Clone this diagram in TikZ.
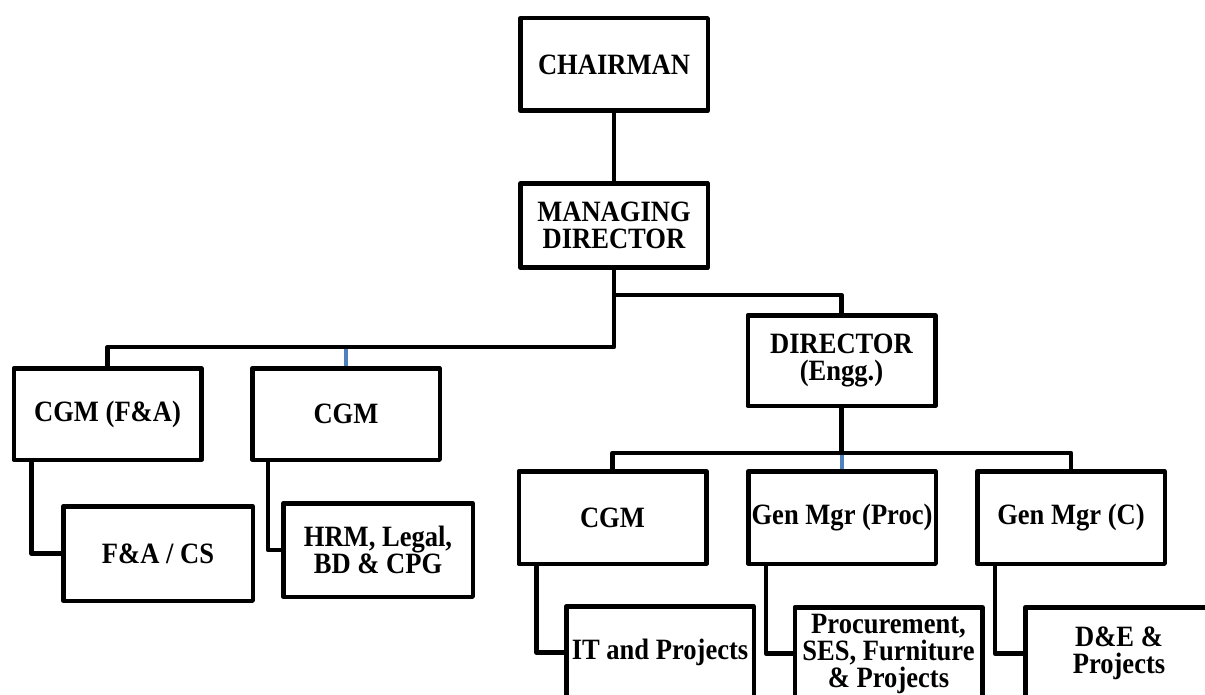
\documentclass[tikz,border=0pt]{standalone}
\usepackage{fontspec}
\setmainfont{Liberation Serif}[FakeStretch=0.9]
\definecolor{linkblue}{HTML}{4F81BD}
\begin{document}
\begin{tikzpicture}[x=1pt,y=-1pt,
  box/.style={draw, line width=4.5pt, line join=round, inner sep=0pt,
    minimum width=187.5pt, align=center,
    font=\bfseries\fontsize{29.5}{27}\selectfont},
  conn/.style={line width=4.5pt, line join=round},
  bconn/.style={line width=4.5pt, draw=linkblue}]
\useasboundingbox (0,0) rectangle (1205,695);
% nodes
\node[box, minimum height=92.5pt] (chair) at (614,64.5) {CHAIRMAN};
\node[box, minimum height=83.5pt] (md) at (614,225.5) {MANAGING\\DIRECTOR};
\node[box, minimum height=90.5pt] (director) at (841.5,360.5) {DIRECTOR\\(Engg.)};
\node[box, minimum height=91.5pt] (cgmfa) at (107.5,414) {CGM (F\&A)};
\node[box, minimum height=91.5pt] (cgm1) at (346,414) {CGM};
\node[box, minimum height=94.5pt, minimum width=189.5pt] (facs) at (158,553.5) {F\&A / CS};
\node[box, minimum height=93.5pt, minimum width=189.5pt] (hrm) at (378,550) {HRM, Legal,\\BD \& CPG};
\node[box, minimum height=92.5pt] (cgm2) at (612.5,517.5) {CGM};
\node[box, minimum height=92.5pt] (gmp) at (842,517.5) {Gen Mgr (Proc)};
\node[box, minimum height=92.5pt] (gmc) at (1071,517.5) {Gen Mgr (C)};
\node[box, minimum height=92.5pt] (it) at (660,652.5) {IT and Projects};
\node[box, minimum height=92.5pt] (proc) at (888.5,653.5) {Procurement,\\SES, Furniture\\\& Projects};
\node[box, minimum height=92.5pt] (de) at (1119,653.5) {D\&E \&\\Projects};
% bus levels
\coordinate (busL) at (0,347);
\coordinate (busR) at (0,295);
\coordinate (busD) at (0,453);
% blue stubs (under black lines)
\draw[bconn] (cgm1.north) -- (cgm1.north |- busL);
\draw[bconn] (gmp.north) -- (gmp.north |- busD);
% connectors
\draw[conn] (chair.south) -- (md.north);
\draw[conn] (md.south) |- (cgmfa.north |- busL) -- (cgmfa.north);
\draw[conn] (md.south |- busR) -| (director.north);
\draw[conn] (director.south) -- (director.south |- busD);
\draw[conn] (cgm2.north) |- (gmc.north |- busD) -- (gmc.north);
\draw[conn] ([xshift=20pt]cgmfa.south west) |- (facs.west);
\draw[conn] ([xshift=18pt]cgm1.south west) |- (hrm.west);
\draw[conn] ([xshift=20pt]cgm2.south west) |- (it.west);
\draw[conn] ([xshift=20pt]gmp.south west) |- (proc.west);
\draw[conn] ([xshift=20pt]gmc.south west) |- (de.west);
\end{tikzpicture}
\end{document}
